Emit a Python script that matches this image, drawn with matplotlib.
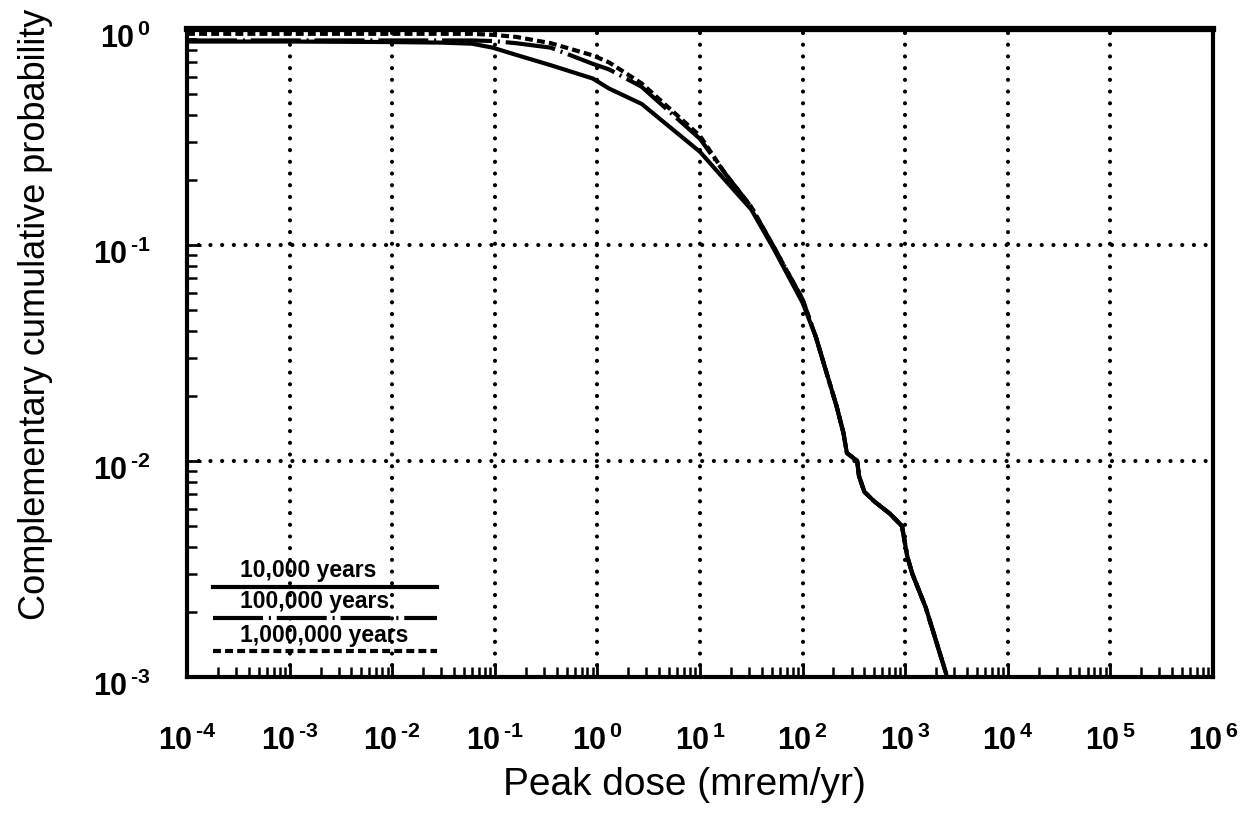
import numpy as np
import matplotlib.pyplot as plt
from matplotlib.ticker import FixedLocator, LogLocator, NullFormatter
from matplotlib.transforms import ScaledTranslation

plt.rcParams['font.family'] = ['Liberation Sans', 'DejaVu Sans']
plt.rcParams['mathtext.fontset'] = 'custom'
plt.rcParams['mathtext.rm'] = 'Liberation Sans:bold'
plt.rcParams['mathtext.it'] = 'Liberation Sans:bold'
plt.rcParams['mathtext.bf'] = 'Liberation Sans:bold'

# datos (dosis en mrem/yr, probabilidad acumulada complementaria)
dose_head = [1e-4, 1e-3, 1e-2, 0.03, 0.06, 0.095, 0.16, 0.35, 0.9, 1.3, 2.7,
             10, 17.5, 31.6, 53, 100]
ccp_10k_head = [0.875, 0.875, 0.87, 0.865, 0.855, 0.82, 0.76, 0.68, 0.59, 0.53,
                0.45, 0.27, 0.20, 0.146, 0.095, 0.054]
ccp_100k_head = [0.885, 0.885, 0.885, 0.885, 0.885, 0.88, 0.86, 0.82, 0.69, 0.65,
                 0.54, 0.31, 0.215, 0.15, 0.097, 0.056]
ccp_1m_head = [0.95, 0.95, 0.95, 0.95, 0.95, 0.94, 0.92, 0.86, 0.755, 0.70,
               0.56, 0.32, 0.215, 0.15, 0.097, 0.056]

# cola comun de las tres curvas
dose_tail = [135, 170, 214, 250, 270, 340, 355, 400, 500, 710, 930, 1050, 1175,
             1585, 2500]
ccp_tail = [0.0374, 0.0259, 0.018, 0.0135, 0.0109, 0.0100, 0.0085, 0.0072,
            0.0065, 0.0057, 0.0050, 0.0036, 0.0030, 0.0021, 0.00104]

x_exps = [-4, -3, -2, -1, 0, 1, 2, 3, 4, 5, 6]
y_exps = [-3, -2, -1, 0]
series_names = ['10,000 years', '100,000 years', '1,000,000 years']

dose = dose_head + dose_tail
curves = [ccp_10k_head + ccp_tail, ccp_100k_head + ccp_tail, ccp_1m_head + ccp_tail]
styles = ['-', (0, (12, 1.4, 0.5, 1.4)), (0, (1.9, 1.0))]


def etiqueta(e):
    # guion corto como en el original
    return r'$10^{\,\text{%s}}$' % ('-%d' % -e if e < 0 else '%d' % e)


fig = plt.figure(figsize=(12.51, 8.24), dpi=100)
ax = fig.add_axes([0.1495, 0.1784, 0.8201, 0.7864])

for ccp, ls in zip(curves[::-1], styles[::-1]):
    ax.plot(dose, ccp, color='black', lw=3, ls=ls)

ax.set_xscale('log')
ax.set_yscale('log')
ax.set_xlim(10.0 ** x_exps[0], 10.0 ** x_exps[-1])
ax.set_ylim(10.0 ** y_exps[0], 10.0 ** y_exps[-1])

ax.xaxis.set_major_locator(FixedLocator([10.0 ** e for e in x_exps]))
ax.yaxis.set_major_locator(FixedLocator([10.0 ** e for e in y_exps]))
ax.set_xticklabels([etiqueta(e) for e in x_exps])
ax.set_yticklabels([etiqueta(e) for e in y_exps])
ax.xaxis.set_minor_locator(LogLocator(base=10, subs=np.arange(2, 10), numticks=20))
ax.yaxis.set_minor_locator(LogLocator(base=10, subs=np.arange(2, 10), numticks=20))
ax.xaxis.set_minor_formatter(NullFormatter())
ax.yaxis.set_minor_formatter(NullFormatter())

ax.tick_params(which='major', direction='in', length=10, width=2, labelsize=22)
ax.tick_params(which='minor', direction='in', length=7, width=1.8)
ax.tick_params(axis='x', which='major', pad=35)
ax.tick_params(axis='y', which='major', pad=26)

for lab in ax.get_yticklabels():
    lab.set_transform(lab.get_transform() + ScaledTranslation(0, -0.07, fig.dpi_scale_trans))

ax.grid(True, which='major', color='black', lw=3, ls=(0, (0.01, 2.8)),
        dash_capstyle='round')

for side in ['left', 'right', 'bottom']:
    ax.spines[side].set_linewidth(3)
ax.spines['top'].set_linewidth(4.5)

ax.set_xlabel('Peak dose (mrem/yr)', fontsize=28)
ax.set_ylabel('Complementary cumulative probability', fontsize=26)
ax.xaxis.set_label_coords(0.485, -0.139)
ax.yaxis.set_label_coords(-0.131, 0.559)

# leyenda manual: texto encima de cada linea
leg_y = [0.139, 0.091, 0.040]
for name, ls, yy in zip(series_names, styles, leg_y):
    ax.plot([0.025, 0.244], [yy, yy], transform=ax.transAxes, color='black',
            lw=3, ls=ls, clip_on=False)
    ax.text(0.052, yy + 0.007, name, transform=ax.transAxes, fontsize=16.5,
            fontweight='bold', ha='left', va='bottom')

fig.savefig('out.png', dpi=100)
